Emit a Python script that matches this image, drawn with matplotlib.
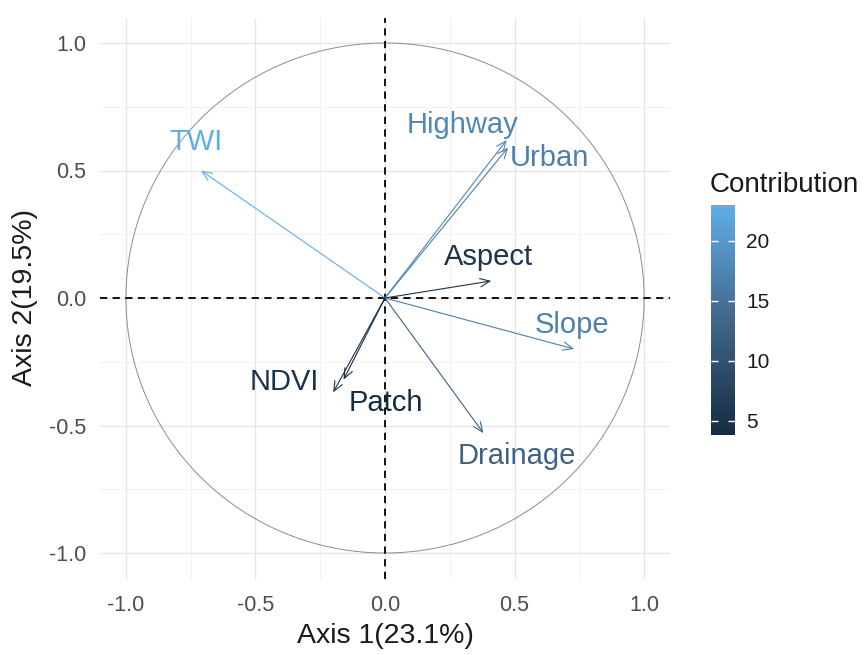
import numpy as np
import matplotlib
matplotlib.use("Agg")
import matplotlib.pyplot as plt
from matplotlib.colors import LinearSegmentedColormap, Normalize
from matplotlib.cm import ScalarMappable

plt.rcParams['font.family'] = ['Liberation Sans', 'DejaVu Sans']

# PCA variable loadings on the first two axes
variables = ['TWI', 'Highway', 'Urban', 'Aspect', 'Slope', 'Drainage', 'NDVI', 'Patch']
dim1 = [-0.71, 0.47, 0.475, 0.41, 0.73, 0.38, -0.20, -0.16]
dim2 = [0.50, 0.62, 0.59, 0.067, -0.20, -0.53, -0.37, -0.32]
contrib = [23.0, 17.8, 16.8, 5.1, 16.8, 12.5, 5.2, 3.8]
cbar_ticks = [5, 10, 15, 20]

# where each variable name sits in the plot
label_pos = {
    'TWI': (-0.73, 0.61),
    'Highway': (0.30, 0.68),
    'Urban': (0.635, 0.55),
    'Aspect': (0.40, 0.16),
    'Slope': (0.72, -0.105),
    'Drainage': (0.51, -0.62),
    'NDVI': (-0.39, -0.33),
    'Patch': (0.005, -0.41),
}

cmap = LinearSegmentedColormap.from_list('gg', ['#152B42', '#41678A', '#5FAEE8'])
norm = Normalize(vmin=min(contrib), vmax=max(contrib))

fig = plt.figure(figsize=(8.66, 6.55), dpi=100)
ax = fig.add_axes([100/866, 1 - 578.5/655, 570/866, 561/655])
ax.set_xlim(-1.1, 1.1)
ax.set_ylim(-1.1, 1.1)

# grid, minimal theme
ax.set_xticks([-1.0, -0.5, 0.0, 0.5, 1.0])
ax.set_yticks([-1.0, -0.5, 0.0, 0.5, 1.0])
ax.set_xticks([-0.75, -0.25, 0.25, 0.75], minor=True)
ax.set_yticks([-0.75, -0.25, 0.25, 0.75], minor=True)
ax.grid(True, which='major', color='#E6E6E6', lw=1.0)
ax.grid(True, which='minor', color='#F2F2F2', lw=0.7)
ax.set_axisbelow(True)
for s in ax.spines.values():
    s.set_visible(False)
ax.tick_params(which='both', length=0, labelsize=15.5, labelcolor='#4D4D4D')
ax.tick_params(axis='x', pad=12)
ax.tick_params(axis='y', pad=10)
ax.set_xticklabels(['-1.0', '-0.5', '0.0', '0.5', '1.0'])
ax.set_yticklabels(['-1.0', '-0.5', '0.0', '0.5', '1.0'])

# correlation circle
t = np.linspace(0, 2 * np.pi, 400)
ax.plot(np.cos(t), np.sin(t), color='#8C8C8C', lw=0.7)

ax.axhline(0, color='black', lw=1.3, ls=(0, (4, 3)))
ax.axvline(0, color='black', lw=1.3, ls=(0, (4, 3)))

for name, x, y, c in zip(variables, dim1, dim2, contrib):
    col = cmap(norm(c))
    ax.annotate('', xy=(x, y), xytext=(0, 0),
                arrowprops=dict(arrowstyle='->,head_length=0.7,head_width=0.3',
                                color=col, lw=0.8, shrinkA=0, shrinkB=0,
                                mutation_scale=10))
    lx, ly = label_pos[name]
    ax.text(lx, ly, name, color=col, fontsize=21, ha='center', va='center')

ax.set_xlabel('Axis 1(23.1%)', fontsize=20.5, color='#1A1A1A', labelpad=5)
ax.set_ylabel('Axis 2(19.5%)', fontsize=20.5, color='#1A1A1A', labelpad=8)

# contribution colour bar
cax = fig.add_axes([711/866, 1 - 435/655, 24/866, 230/655])
cb = fig.colorbar(ScalarMappable(norm=norm, cmap=cmap), cax=cax, ticks=cbar_ticks)
cb.outline.set_visible(False)
cax.tick_params(length=5, width=1, color='white', direction='in',
                labelsize=15, labelcolor='#1A1A1A', pad=8, right=True, left=True)
fig.text(710/866, 1 - 185/655, 'Contribution', fontsize=20, color='#1A1A1A',
         ha='left', va='center')

fig.savefig('out.png', dpi=100)
